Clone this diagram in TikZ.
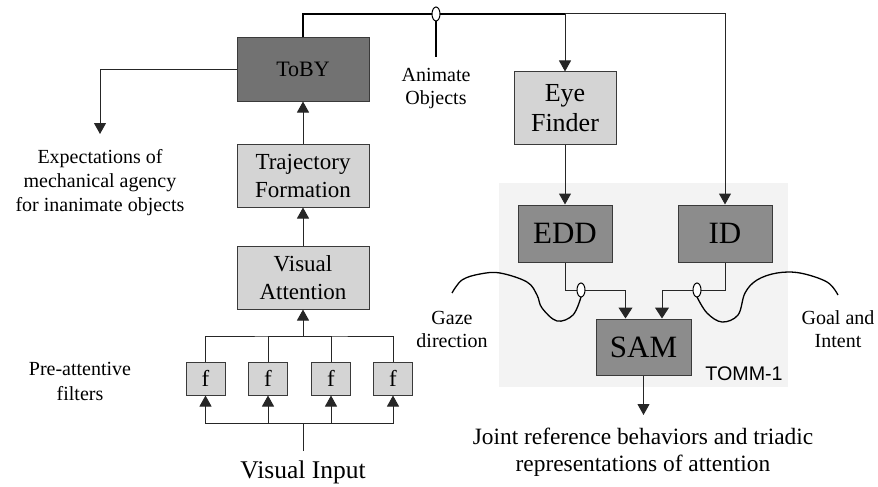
\documentclass[tikz,border=0pt]{standalone}
\usepackage{fontspec}
\setmainfont{Liberation Serif}
\newfontfamily\arialf{Liberation Sans}
\usetikzlibrary{arrows.meta,shapes.geometric}
\definecolor{darkbox}{HTML}{727272}
\definecolor{midbox}{HTML}{8C8C8C}
\definecolor{lightbox}{HTML}{D4D4D4}
\definecolor{tommbg}{HTML}{F3F3F3}
\definecolor{edgec}{HTML}{3A3A3A}
\begin{document}
\begin{tikzpicture}[x=1pt,y=-1pt,
 box/.style={draw=edgec, line width=1pt, inner sep=0pt, align=center},
 lbl/.style={inner sep=0pt, align=center, font=\fontsize{20}{24}\selectfont},
 conn/.style={line width=1pt, draw=black!85},
 arr/.style={conn, -{Triangle[width=12pt,length=11pt]}},
 ring/.style={draw=black, fill=white, ellipse, line width=1pt, minimum width=8pt, minimum height=14pt, inner sep=0pt},
]
\useasboundingbox (0,0) rectangle (878,487);
\fill[tommbg] (499,183) rectangle (788,387);

% boxes
\node[box, fill=darkbox, minimum width=132pt, minimum height=63pt, font=\fontsize{22}{26}\selectfont] (toby) at (303,69.5) {ToBY};
\node[box, fill=lightbox, minimum width=132pt, minimum height=63pt, font=\fontsize{23}{28}\selectfont] (traj) at (303,175.5) {Trajectory\\Formation};
\node[box, fill=lightbox, minimum width=132pt, minimum height=63pt, font=\fontsize{23}{28}\selectfont] (va) at (303,277.5) {Visual\\Attention};
\foreach \i/\x in {1/205.5,2/268,3/331,4/393}
  \node[box, fill=lightbox, minimum width=39pt, minimum height=33pt, font=\fontsize{23}{26}\selectfont] (f\i) at (\x,378.5) {f};
\node[box, fill=lightbox, minimum width=102pt, minimum height=72pt, font=\fontsize{26}{30}\selectfont] (eye) at (565,108) {Eye\\Finder};
\node[box, fill=midbox, minimum width=94pt, minimum height=57pt, font=\fontsize{31}{34}\selectfont] (edd) at (565,233.5) {EDD};
\node[box, fill=midbox, minimum width=94pt, minimum height=57pt, font=\fontsize{31}{34}\selectfont] (id) at (725,233.5) {ID};
\node[box, fill=midbox, minimum width=95pt, minimum height=56pt, font=\fontsize{31}{34}\selectfont] (sam) at (643.5,347) {SAM};

% labels
\node[lbl] (expl) at (100,183) {Expectations of\\mechanical agency\\for inanimate objects};
\node[lbl, font=\fontsize{20}{23}\selectfont] (anim) at (436,89) {Animate\\Objects};
\node[lbl, font=\fontsize{20}{25}\selectfont] (pre) at (80,381) {Pre-attentive\\filters};
\node[lbl, font=\fontsize{20}{23}\selectfont] (gaze) at (452,329) {Gaze\\direction};
\node[lbl, font=\fontsize{20}{23}\selectfont] (goal) at (838,329) {Goal and\\Intent};
\node[lbl, font=\fontsize{23.4}{27}\selectfont] (joint) at (643,452) {Joint reference behaviors and triadic\\representations of attention};
\node[lbl, font=\fontsize{25.5}{30}\selectfont] (vin) at (303,472) {Visual Input};
\node[lbl, font=\arialf\fontsize{19.7}{22}\selectfont] (tomm) at (744,374) {TOMM-1};

% top bus
\coordinate (tl) at (303,14);
\coordinate (te) at (565,14);
\coordinate (tr) at (725,14);
\draw[conn, line width=1.4pt, draw=black] (toby.north) -- (tl) -- (te);
\draw[arr] (te) -- (tr) -- (id.north);
\draw[arr] (te) -- (eye.north);
\node[ring] (ring1) at (436,14) {};
\coordinate (anend) at (436,57);
\draw[conn, line width=1.4pt, draw=black] (ring1.south) -- (anend);

% expectations
\coordinate (exc) at (100,69.5);
\coordinate (ext) at (100,134);
\draw[arr] (toby.west) -- (exc) -- (ext);

% left chain
\draw[arr] (traj.north) -- (toby.south);
\draw[arr] (va.north) -- (traj.south);
\coordinate (bt) at (303,336);
\draw[conn] (f1.north) |- (bt) -| (f4.north);
\draw[conn] (f2.north) |- (bt);
\draw[conn] (f3.north) |- (bt);
\draw[arr] (bt) -- (va.south);
\coordinate (bb) at (303,423);
\coordinate (vt) at (303,451);
\draw[conn] (vt) -- (bb);
\foreach \i in {1,2,3,4} \draw[arr] (bb) -| (f\i.south);

% right chain
\draw[arr] (eye.south) -- (edd.north);
\coordinate (el) at (565,290);
\coordinate (er) at (725,290);
\draw[arr, -{Triangle[width=14pt,length=11pt]}] (edd.south) -- (el) -| ([xshift=-18pt]sam.north);
\draw[arr, -{Triangle[width=14pt,length=11pt]}] (id.south) -- (er) -| ([xshift=18.5pt]sam.north);
\node[ring] (ring2) at (581,290) {};
\node[ring] (ring3) at (697,290) {};
\coordinate (jt) at (643.5,415);
\draw[arr] (sam.south) -- (jt);

% curves
\draw[line width=1.3pt, black] plot[smooth, tension=0.6] coordinates {(452,293) (462,280) (480,274) (500,273) (527,282) (537,295) (542,308) (557,321) (573,315) (581,297)};
\draw[line width=1.3pt, black] plot[smooth, tension=0.6] coordinates {(697,297) (707,313) (722,322) (738,315) (745,293) (757,280) (777,273) (800,273) (827,282) (838,295)};
\end{tikzpicture}
\end{document}
